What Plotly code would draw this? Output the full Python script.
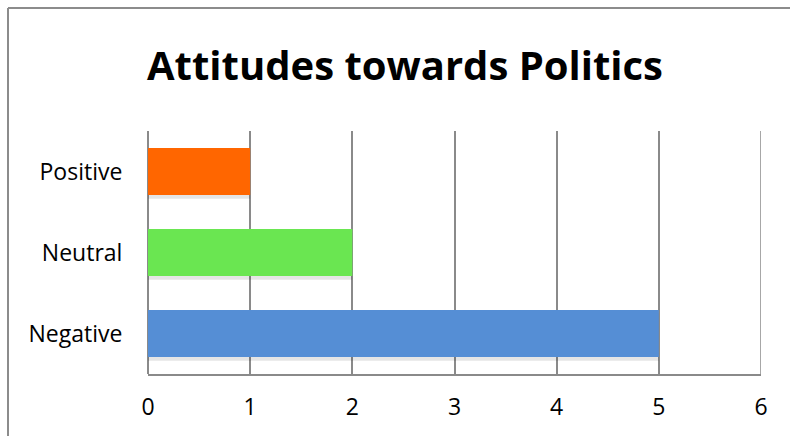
import plotly.graph_objects as go

categories = ["Negative", "Neutral", "Positive"]
values = [5, 2, 1]
colors = ["#558ED5", "#6AE651", "#FF6600"]
x_ticks = [0, 1, 2, 3, 4, 5, 6]
title_text = "Attitudes towards Politics"

W, H = 790, 436
L, R, T, B = 148, 29, 131, 62
pw, ph = W - L - R, H - T - B
FONT = "'Open Sans', 'Noto Sans', sans-serif"

def px_to_paper_x(p):
    return (p - L) / pw

def px_to_paper_y(p):
    return (H - B - p) / ph

fig = go.Figure()
# soft drop shadow
fig.add_trace(go.Bar(
    y=categories, x=values, orientation="h",
    width=0.58, offset=-0.29 - 0.045,
    marker=dict(color="rgba(0,0,0,0.10)", line=dict(width=0)),
    hoverinfo="skip", showlegend=False,
))
fig.add_trace(go.Bar(
    y=categories, x=values, orientation="h",
    width=0.58, offset=-0.29,
    marker=dict(color=colors, line=dict(width=0)),
    showlegend=False,
))

grid = "#8a8a8a"
fig.update_layout(
    width=W, height=H,
    margin=dict(l=L, r=R, t=T, b=B, pad=0),
    paper_bgcolor="white", plot_bgcolor="white",
    barmode="overlay",
    font=dict(family=FONT, color="#000000"),
    title=dict(
        text="<b>" + title_text + "</b>",
        x=405 / W, xref="container", xanchor="center",
        y=1 - 66 / H, yref="container", yanchor="middle",
        font=dict(size=40, family=FONT, color="#000000"),
    ),
    xaxis=dict(
        range=[0, 6], tickvals=x_ticks, ticktext=[str(t) for t in x_ticks],
        showgrid=True, gridcolor=grid, gridwidth=1.5,
        zeroline=True, zerolinecolor=grid, zerolinewidth=1.5,
        showline=True, linecolor=grid, linewidth=1.5,
        ticks="outside", ticklen=12, tickcolor="rgba(0,0,0,0)",
        tickfont=dict(size=23, color="#000000"),
        fixedrange=True,
    ),
    yaxis=dict(
        range=[-0.5, 2.5],
        showgrid=False, showline=False, zeroline=False,
        ticks="outside", ticklen=20, tickcolor="rgba(0,0,0,0)",
        tickfont=dict(size=23, color="#000000"),
        fixedrange=True,
    ),
    shapes=[
        dict(type="line", xref="x", yref="paper",
             x0=x_ticks[-1], x1=x_ticks[-1], y0=0, y1=1,
             line=dict(color=grid, width=1.5)),
        dict(type="line", xref="paper", yref="paper",
             x0=px_to_paper_x(8), x1=px_to_paper_x(8),
             y0=px_to_paper_y(8), y1=px_to_paper_y(440),
             line=dict(color="#8c8c8c", width=2)),
        dict(type="line", xref="paper", yref="paper",
             x0=px_to_paper_x(8), x1=px_to_paper_x(795),
             y0=px_to_paper_y(8), y1=px_to_paper_y(8),
             line=dict(color="#8c8c8c", width=2)),
    ],
)

fig.write_html("out.html")
